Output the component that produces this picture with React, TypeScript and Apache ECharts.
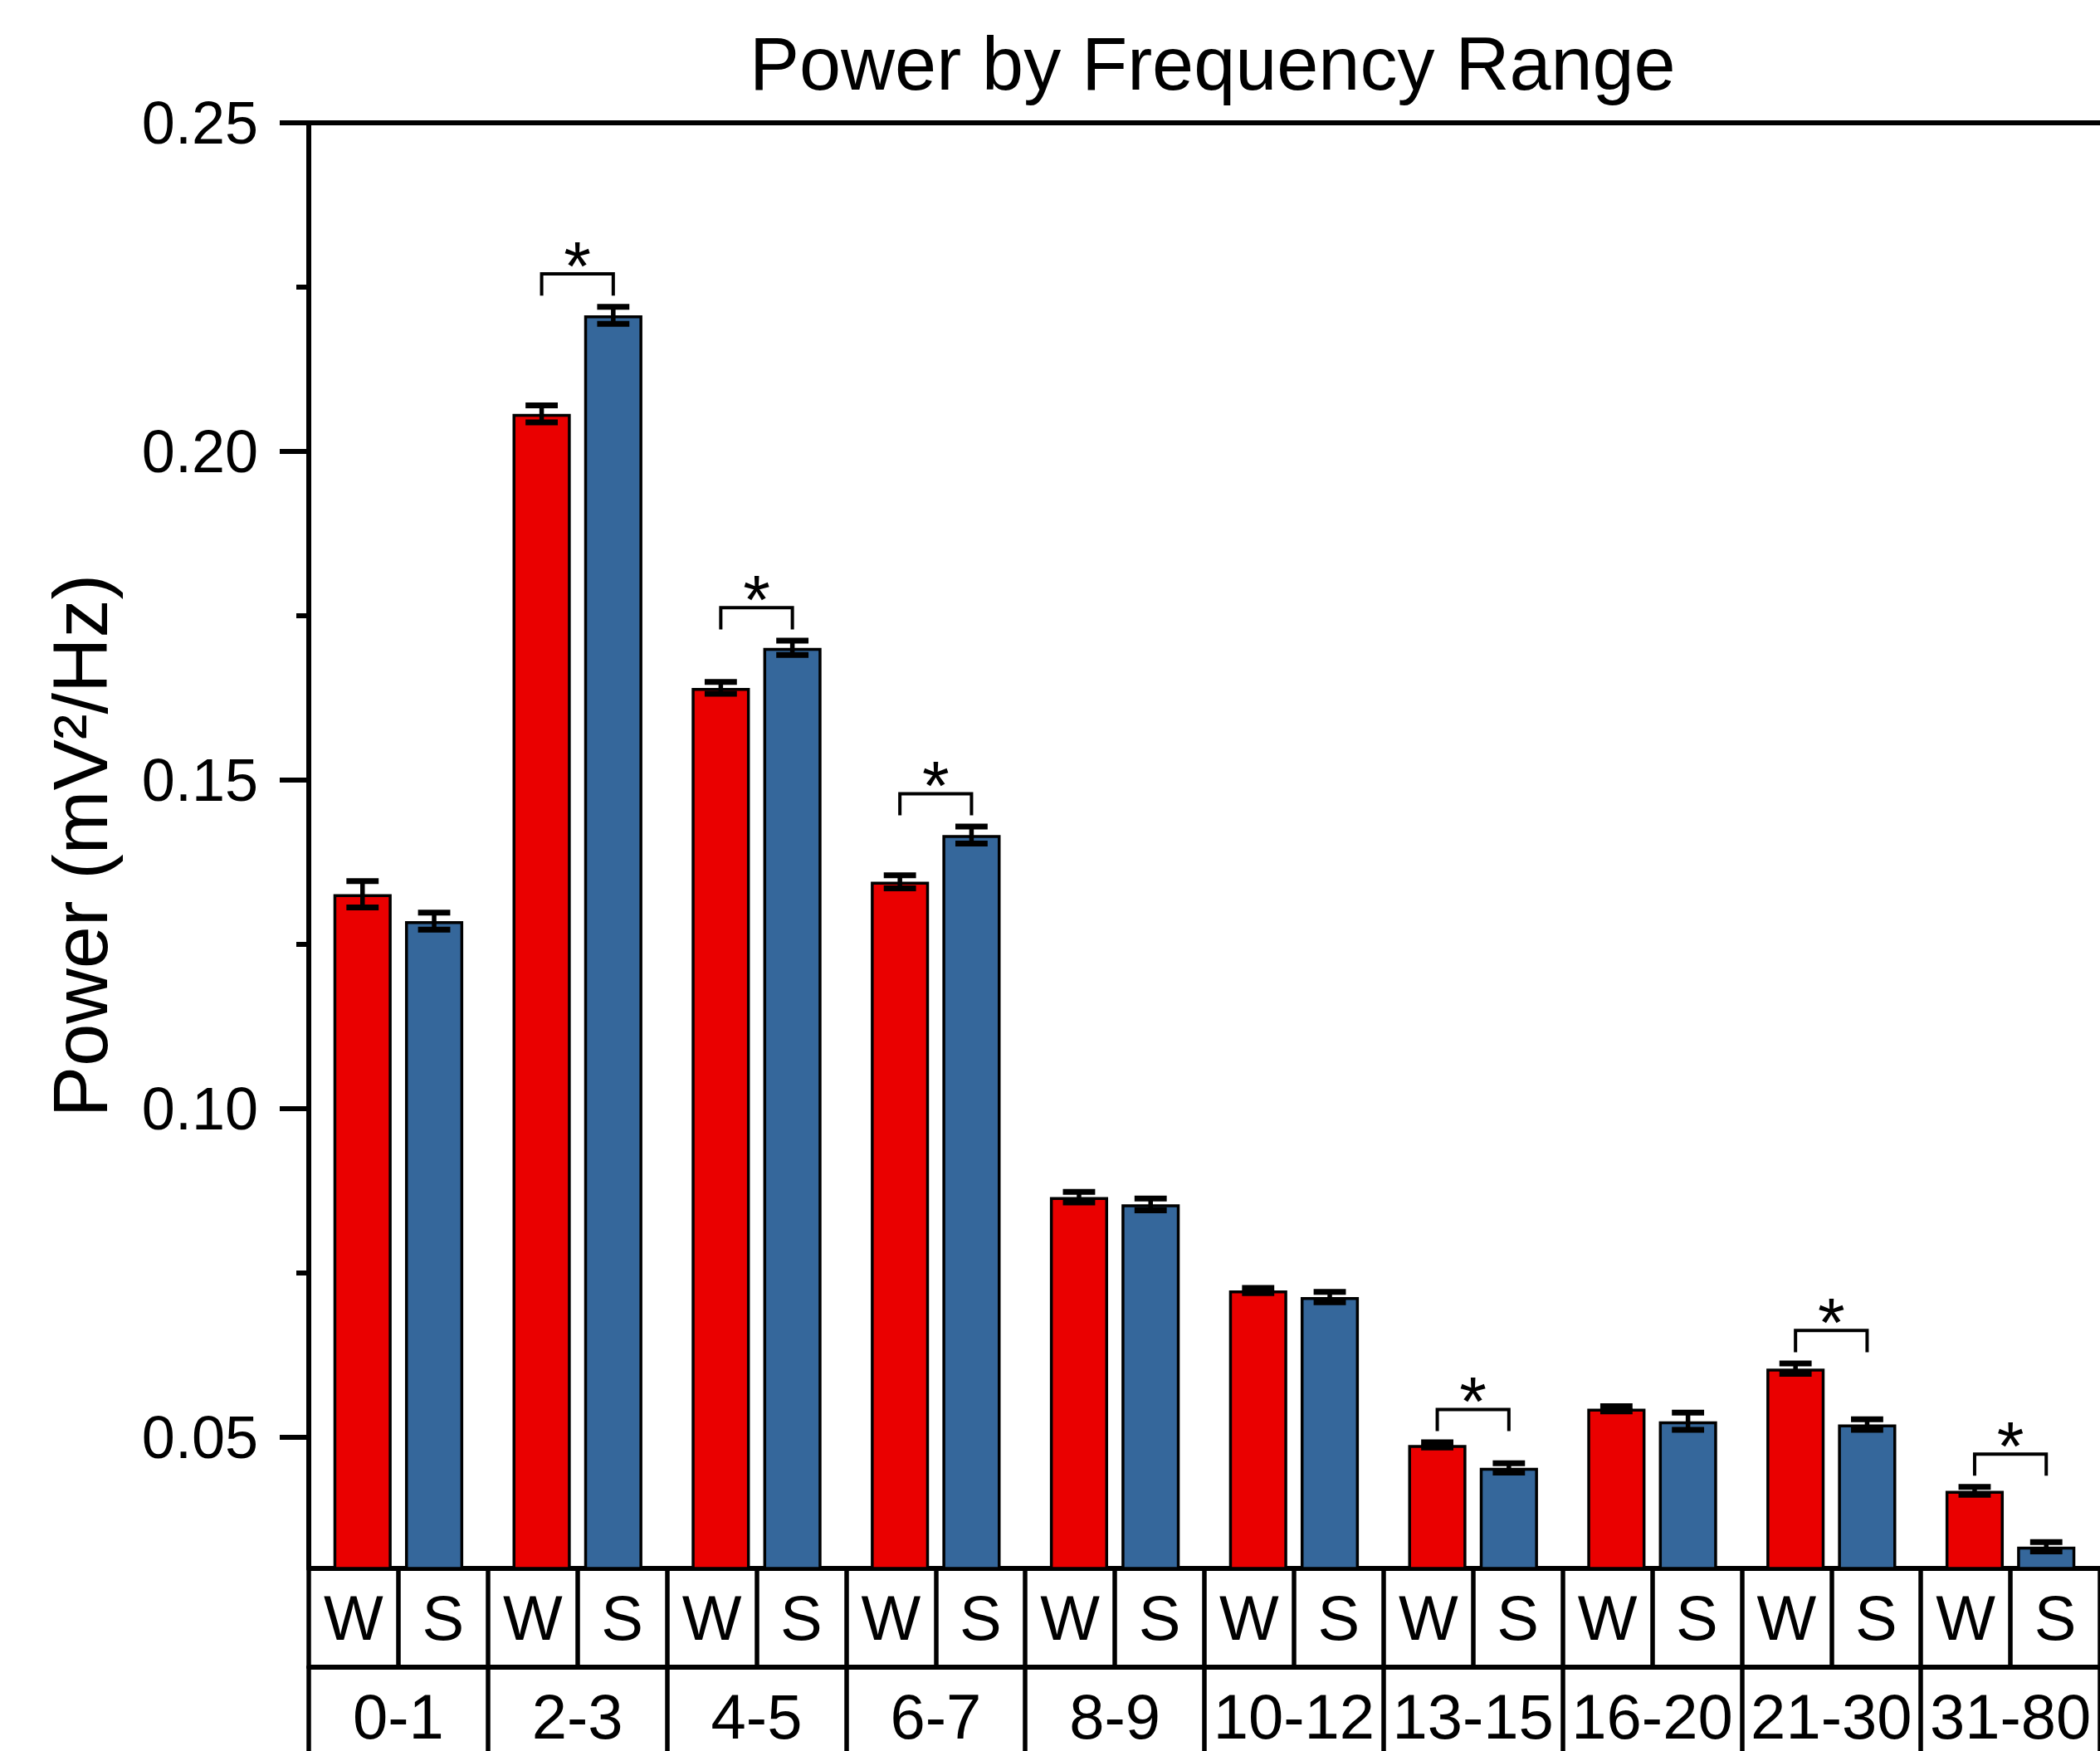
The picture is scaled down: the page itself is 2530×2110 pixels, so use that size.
import React, { useEffect, useRef } from "react";
import * as echarts from "echarts";

const FONT = '"Liberation Sans", Arial, Helvetica, sans-serif';

// ---- data ----
const categories = ["0-1", "2-3", "4-5", "6-7", "8-9", "10-12", "13-15", "16-20", "21-30", "31-80"];
const groupLabels = ["W", "S"];
const wakeValues = [0.1326, 0.2057, 0.164, 0.1345, 0.0865, 0.0723, 0.0488, 0.0543, 0.0604, 0.0418];
const sleepValues = [0.1285, 0.2207, 0.1701, 0.1416, 0.0854, 0.0713, 0.0453, 0.0524, 0.0519, 0.0333];
const wakeErrors = [0.002, 0.0013, 0.0009, 0.001, 0.0008, 0.0004, 0.0004, 0.0004, 0.0008, 0.0006];
const sleepErrors = [0.0013, 0.0013, 0.0011, 0.0013, 0.0009, 0.0008, 0.0007, 0.0013, 0.0008, 0.0007];
const significantIdx = [1, 2, 3, 6, 8, 9];
const yTickValues = [0.05, 0.1, 0.15, 0.2, 0.25];
const yMinorTickValues = [0.075, 0.125, 0.175, 0.225];
const yMin = 0.03;
const yMax = 0.25;

const titleText = "Power by Frequency Range";
const yAxisName = "Power (mV\u00B2/Hz)";

const RED = "#EA0000";
const BLUE = "#35679B";

// layout ratios (relative to category band)
const BAR_W = 0.325;
const BAR_GAP = 0.23;
const OFFSET = (BAR_W + BAR_W * BAR_GAP) / 2;

function errRender(side: number) {
  return (params: any, api: any) => {
    const x = api.value(0);
    const v = api.value(1);
    const e = api.value(2);
    const band = api.size([1, 0])[0];
    const c = api.coord([x, v]);
    const cx = c[0] + side * band * OFFSET;
    const top = api.coord([x, v + e])[1];
    const bot = api.coord([x, v - e])[1];
    const half = band * 0.09;
    const stem = { stroke: "#000", lineWidth: 5.5 };
    const cap = { stroke: "#000", lineWidth: 7 };
    return {
      type: "group",
      children: [
        { type: "line", shape: { x1: cx, y1: top, x2: cx, y2: bot }, style: stem },
        { type: "line", shape: { x1: cx - half, y1: top, x2: cx + half, y2: top }, style: cap },
        { type: "line", shape: { x1: cx - half, y1: bot, x2: cx + half, y2: bot }, style: cap },
      ],
    };
  };
}

function bracketRender(params: any, api: any) {
  const x = api.value(0);
  const lvl = api.value(1);
  const band = api.size([1, 0])[0];
  const c = api.coord([x, lvl]);
  const leg = api.size([0, 0.0033])[1];
  const xl = c[0] - band * OFFSET;
  const xr = c[0] + band * OFFSET;
  const y = c[1];
  return {
    type: "group",
    children: [
      {
        type: "polyline",
        shape: { points: [[xl, y + leg], [xl, y], [xr, y], [xr, y + leg]] },
        style: { stroke: "#000", lineWidth: 4, fill: "none" },
      },
      {
        type: "text",
        x: c[0],
        y: y - 9,
        style: {
          text: "*",
          fontSize: 84,
          fontFamily: FONT,
          fill: "#000",
          align: "center",
          verticalAlign: "middle",
        },
      },
    ],
  };
}

export default function App() {
  const ref = useRef<HTMLDivElement>(null);

  useEffect(() => {
    const chart = echarts.init(ref.current as HTMLDivElement, null, { renderer: "svg" });
    const wsLabels = categories.flatMap(() => groupLabels);
    const axisLineStyle = { color: "#000", width: 6 };

    const option: any = {
      animation: false,
      backgroundColor: "#fff",
      title: {
        text: titleText,
        left: 903,
        top: 32,
        padding: 0,
        textStyle: { fontSize: 90, fontWeight: "normal", fontFamily: FONT, color: "#000" },
      },
      grid: { left: 372, right: -2, top: 148, bottom: 220, containLabel: false },
      xAxis: [
        {
          type: "category",
          position: "bottom",
          data: wsLabels,
          boundaryGap: true,
          axisLine: { show: true, onZero: false, lineStyle: axisLineStyle },
          axisTick: { show: true, interval: 0, length: 119, inside: false, lineStyle: { color: "#000", width: 5.5 } },
          axisLabel: {
            interval: 0,
            margin: 59,
            verticalAlign: "middle",
            fontSize: 76,
            fontFamily: FONT,
            color: "#000",
          },
          splitLine: { show: false },
        },
        {
          type: "category",
          position: "bottom",
          offset: 119,
          data: categories,
          boundaryGap: true,
          axisLine: { show: true, onZero: false, lineStyle: axisLineStyle },
          axisTick: { show: true, interval: 0, length: 140, inside: false, lineStyle: { color: "#000", width: 5.5 } },
          axisLabel: {
            interval: 0,
            margin: 59,
            verticalAlign: "middle",
            fontSize: 76,
            fontFamily: FONT,
            color: "#000",
          },
          splitLine: { show: false },
        },
        {
          type: "category",
          position: "top",
          data: categories,
          axisLine: { show: true, onZero: false, lineStyle: axisLineStyle },
          axisTick: { show: false },
          axisLabel: { show: false },
          splitLine: { show: false },
        },
      ],
      yAxis: [
        {
          type: "value",
          position: "left",
          min: yMin,
          max: yMax,
          axisLine: { show: true, lineStyle: axisLineStyle },
          axisTick: { show: true, customValues: yTickValues, length: 35, lineStyle: { color: "#000", width: 6 } },
          axisLabel: {
            customValues: yTickValues,
            formatter: (v: number) => v.toFixed(2),
            fontSize: 72,
            fontFamily: FONT,
            color: "#000",
            margin: 61,
          },
          splitLine: { show: false },
          name: yAxisName,
          nameLocation: "middle",
          nameRotate: 90,
          nameGap: 229,
          nameTextStyle: { fontSize: 92, fontFamily: FONT, color: "#000" },
        },
        {
          type: "value",
          position: "left",
          min: yMin,
          max: yMax,
          axisLine: { show: false },
          axisTick: { show: true, customValues: yMinorTickValues, length: 15, lineStyle: { color: "#000", width: 6 } },
          axisLabel: { show: false },
          splitLine: { show: false },
        },
      ],
      series: [
        {
          name: "W",
          type: "bar",
          xAxisIndex: 1,
          yAxisIndex: 0,
          data: wakeValues,
          barWidth: `${BAR_W * 100}%`,
          barGap: `${BAR_GAP * 100}%`,
          itemStyle: { color: RED, borderColor: "#000", borderWidth: 3.5 },
        },
        {
          name: "S",
          type: "bar",
          xAxisIndex: 1,
          yAxisIndex: 0,
          data: sleepValues,
          barWidth: `${BAR_W * 100}%`,
          barGap: `${BAR_GAP * 100}%`,
          itemStyle: { color: BLUE, borderColor: "#000", borderWidth: 3.5 },
        },
        {
          name: "W error",
          type: "custom",
          xAxisIndex: 1,
          yAxisIndex: 0,
          z: 5,
          data: wakeValues.map((v, i) => [i, v, wakeErrors[i]]),
          encode: { x: 0, y: 1 },
          renderItem: errRender(-1),
        },
        {
          name: "S error",
          type: "custom",
          xAxisIndex: 1,
          yAxisIndex: 0,
          z: 5,
          data: sleepValues.map((v, i) => [i, v, sleepErrors[i]]),
          encode: { x: 0, y: 1 },
          renderItem: errRender(1),
        },
        {
          name: "significance",
          type: "custom",
          xAxisIndex: 1,
          yAxisIndex: 0,
          z: 5,
          data: significantIdx.map((i) => [
            i,
            Math.max(wakeValues[i] + wakeErrors[i], sleepValues[i] + sleepErrors[i]) + 0.005,
          ]),
          encode: { x: 0, y: 1 },
          renderItem: bracketRender,
        },
      ],
    };

    chart.setOption(option);
    return () => chart.dispose();
  }, []);

  return (
    <div
      ref={ref}
      style={{ position: "absolute", left: 0, top: 0, width: 2530, height: 2110, background: "#fff" }}
    />
  );
}
